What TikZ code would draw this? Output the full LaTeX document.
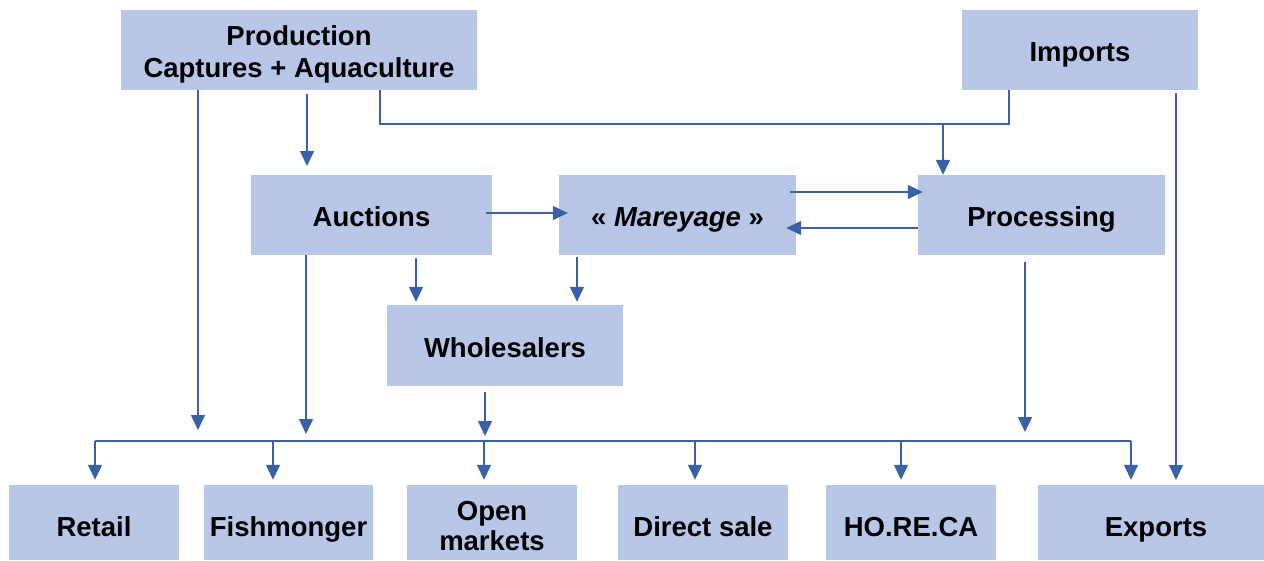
\documentclass[tikz,border=0pt]{standalone}
\usepackage{fontspec}
\setmainfont{Liberation Sans}
\usetikzlibrary{arrows.meta}
\definecolor{boxfill}{HTML}{B8C6E8}
\definecolor{linec}{HTML}{3A60A8}
\tikzset{
  box/.style={fill=boxfill, draw=none, inner sep=0pt, align=center,
    font=\bfseries\fontsize{27.5}{32}\selectfont, text=black,
    text height=22pt, text depth=0pt},
  lowbox/.style={box, minimum height=75pt, text height=27pt},
  conn/.style={draw=linec, line width=1.4pt},
  arr/.style={conn, -{Triangle[length=15pt,width=14pt]}}
}
\begin{document}
\begin{tikzpicture}[x=1pt,y=-1pt]
\useasboundingbox (0,0) rectangle (1264,560);
% top row
\node[box, minimum width=356pt, minimum height=80pt, text height=54pt] (prod) at (299,50)
  {\begin{tabular}[b]{@{}c@{}}Production\\Captures + Aquaculture\end{tabular}};
\node[box, minimum width=236pt, minimum height=80pt] (imp) at (1080,50) {Imports};
% middle row
\node[box, minimum width=241pt, minimum height=80pt, text height=23pt] (auc) at (371.5,215) {Auctions};
\node[box, minimum width=237pt, minimum height=80pt, text height=23pt] (mar) at (677.5,215) {« \textit{Mareyage} »};
\node[box, minimum width=247pt, minimum height=80pt, text height=23pt] (proc) at (1041.5,215) {Processing};
\node[box, minimum width=236pt, minimum height=81pt, text height=23pt] (whol) at (505,345.5) {Wholesalers};
% bottom row
\node[lowbox, minimum width=170pt] (ret) at (94,522.5) {Retail};
\node[lowbox, minimum width=169pt] (fish) at (288.5,522.5) {Fishmonger};
\node[lowbox, minimum width=170pt, text height=55pt, font=\bfseries\fontsize{27.5}{30}\selectfont] (open) at (492,522.5)
  {\begin{tabular}[b]{@{}c@{}}Open\\markets\end{tabular}};
\node[lowbox, minimum width=170pt] (dir) at (703,522.5) {Direct sale};
\node[lowbox, minimum width=170pt] (hor) at (911,522.5) {HO.RE.CA};
\node[lowbox, minimum width=236pt] (exp) at (1156,522.5) {Exports};

% junction / end coordinates
\coordinate (pl) at (198,430);
\coordinate (pm) at (307,166);
\coordinate (pr) at (380,124);
\coordinate (ir) at (1009,124);
\coordinate (pj) at (943,124);
\coordinate (ie) at (1176,480);
\coordinate (ad) at (306,434);
\coordinate (wd) at (485,436);
\coordinate (prd) at (1025,432);
\coordinate (busL) at (95,441);
\coordinate (busR) at (1131,441);

% production connectors
\draw[arr] (prod.south -| pl) -- (pl);
\draw[arr] ([yshift=-4pt]prod.south -| pm) -- (pm);
\draw[conn] (prod.south -| pr) -- (pr) -- (ir) -- (imp.south -| ir);
\draw[arr] (pj) -- (proc.north -| pj);
% imports to exports
\draw[arr] ([yshift=-3pt]imp.south -| ie) -- (ie);
% auctions / mareyage / processing
\draw[arr] ([xshift=-6pt]auc.east |- 0,213) -- ([xshift=9pt]mar.west |- 0,213);
\draw[arr] ([xshift=-6pt]mar.east |- 0,192) -- ([xshift=5pt]proc.west |- 0,192);
\draw[arr] (proc.west |- 0,228) -- ([xshift=-10pt]mar.east |- 0,228);
% downward connectors
\draw[arr] (auc.south -| ad) -- (ad);
\draw[arr] ([yshift=-3pt]auc.south -| 416,0) -- ([yshift=3pt]whol.north -| 416,0);
\draw[arr] ([yshift=-2pt]mar.south -| 577,0) -- ([yshift=3pt]whol.north -| 577,0);
\draw[arr] ([yshift=-6pt]whol.south -| wd) -- (wd);
\draw[arr] ([yshift=-7pt]proc.south -| prd) -- (prd);
% distribution bus
\draw[conn] (busL) -- (busR);
\draw[arr] (busL) -- ([yshift=5pt]ret.north -| busL);
\draw[arr] (busL -| 273,0) -- ([yshift=5pt]fish.north -| 273,0);
\draw[arr] (busL -| 484,0) -- ([yshift=5pt]open.north -| 484,0);
\draw[arr] (busL -| 695,0) -- ([yshift=5pt]dir.north -| 695,0);
\draw[arr] (busL -| 901,0) -- ([yshift=5pt]hor.north -| 901,0);
\draw[arr] (busR) -- ([yshift=5pt]exp.north -| busR);
\end{tikzpicture}
\end{document}
